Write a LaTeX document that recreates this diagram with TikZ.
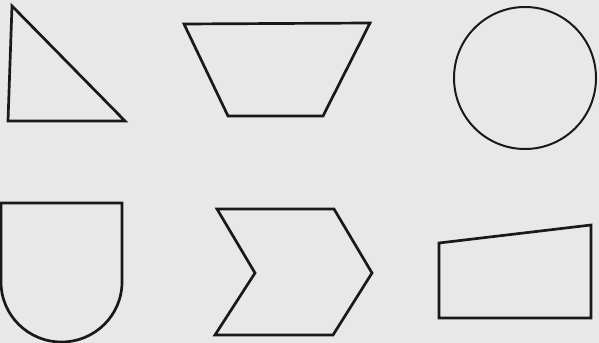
\documentclass[tikz,border=0pt]{standalone}
\usepackage{tikz}

\begin{document}
\begin{tikzpicture}[x=0.03cm,y=-0.03cm]
\tikzstyle{outline}=[draw=black!90, line width=2.3pt, line join=miter]
\tikzstyle{thin outline}=[draw=black!90, line width=1.7pt]
% paper
\fill[gray!18] (0,0) rectangle (599,343);
\useasboundingbox (0,0) rectangle (599,343);
% top row
\draw[outline] (12,6) -- (8,121) -- (125,121) -- cycle;
\draw[outline] (184,24) -- (370,23) -- (323,116) -- (228,116) -- cycle;
\draw[thin outline] (525,78) circle [radius=2.13cm];
% bottom row
\draw[outline] (1,282) -- (1,203) -- (122,203) -- (122,282)
  arc [start angle=0, end angle=-180, x radius=1.815cm, y radius=1.8cm];
\draw[outline] (217,209) -- (334,209) -- (372,273) -- (333,335) -- (215,335) -- (255,273) -- cycle;
\draw[outline] (439,243) -- (591,225) -- (591,318) -- (439,318) -- cycle;
\end{tikzpicture}
\end{document}
